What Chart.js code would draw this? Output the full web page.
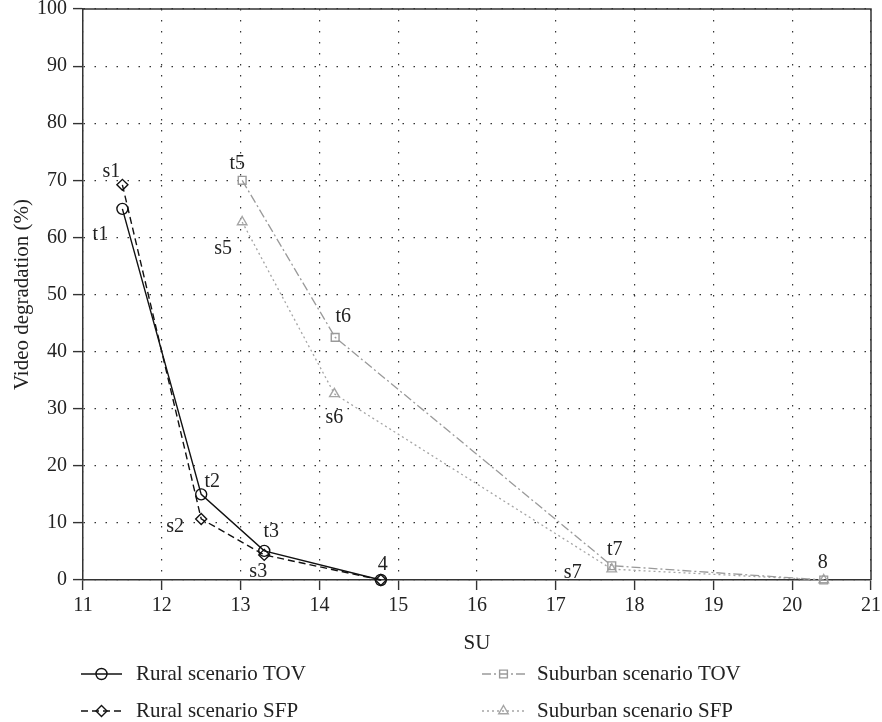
<!DOCTYPE html>
<html>
<head>
<meta charset="utf-8">
<script src="https://cdn.jsdelivr.net/npm/chart.js@4"></script>
<style>
html,body{margin:0;padding:0;background:#fff;}
#wrap{width:882px;height:722px;position:relative;}
</style>
</head>
<body>
<div id="wrap"><canvas id="c"></canvas></div>
<script>
// ---- data ----
const seriesNames = ["Rural scenario TOV", "Rural scenario SFP", "Suburban scenario TOV", "Suburban scenario SFP"];
const ruralTovX = [11.5, 12.5, 13.3, 14.78];
const ruralTovY = [65, 15, 5.1, 0];
const ruralSfpX = [11.5, 12.5, 13.3, 14.78];
const ruralSfpY = [69.2, 10.7, 4.4, 0];
const subTovX = [13.02, 14.2, 17.71, 20.4];
const subTovY = [70, 42.5, 2.5, 0];
const subSfpX = [13.02, 14.19, 17.71, 20.4];
const subSfpY = [62.7, 32.6, 1.9, 0];
const ruralTovLabels = ["t1", "t2", "t3", "4"];
const ruralSfpLabels = ["s1", "s2", "s3", ""];
const subTovLabels = ["t5", "t6", "t7", "8"];
const subSfpLabels = ["s5", "s6", "s7", ""];
const xTitle = "SU";
const yTitle = "Video degradation (%)";

// ---- styles ----
const FONT = "'Liberation Serif', 'Times New Roman', serif";
const TXT = "#222";
const labelOffsets = [
  [[-22, 26], [11, -13], [7, -19], [2, -15]],
  [[-11, -13], [-26, 8], [-6, 17], [0, 0]],
  [[-5, -17], [8, -21], [3, -16], [-1, -17]],
  [[-19, 27], [0, 24], [-39, 4], [0, 0]]
];
const legendPos = [
  {x1: 81, x2: 122, tx: 136, y: 674},
  {x1: 81, x2: 122, tx: 136, y: 711},
  {x1: 482, x2: 525, tx: 537, y: 674},
  {x1: 482, x2: 525, tx: 537, y: 711}
];

function pts(xs, ys) { return xs.map((x, i) => ({x: x, y: ys[i]})); }
const pointLabels = [ruralTovLabels, ruralSfpLabels, subTovLabels, subSfpLabels];

const datasets = [
  {label: seriesNames[0], data: pts(ruralTovX, ruralTovY), borderColor: "#111", borderWidth: 1.4,
   borderDash: [], pointStyle: "circle", pointRadius: 5.5},
  {label: seriesNames[1], data: pts(ruralSfpX, ruralSfpY), borderColor: "#111", borderWidth: 1.4,
   borderDash: [7, 4], pointStyle: "rectRot", pointRadius: 5.5},
  {label: seriesNames[2], data: pts(subTovX, subTovY), borderColor: "#9a9a9a", borderWidth: 1.3,
   borderDash: [9, 3, 2, 3], pointStyle: "rect", pointRadius: 5.5},
  {label: seriesNames[3], data: pts(subSfpX, subSfpY), borderColor: "#a5a5a5", borderWidth: 1.3,
   borderDash: [2, 3], pointStyle: "triangle", pointRadius: 5.5}
].map(d => Object.assign(d, {
  showLine: true, fill: false, tension: 0, clip: false,
  pointBorderColor: d.borderColor, pointBackgroundColor: "rgba(255,255,255,0)",
  pointBorderWidth: 1.4, pointHoverRadius: d.pointRadius
}));

const framePlugin = {
  id: "frame",
  afterDatasetsDraw(chart) {
    const ctx = chart.ctx, a = chart.chartArea;
    ctx.save();
    ctx.strokeStyle = "#333";
    ctx.lineWidth = 1.5;
    ctx.setLineDash([]);
    ctx.beginPath();
    ctx.moveTo(a.left, a.top);
    ctx.lineTo(a.right, a.top);
    ctx.lineTo(a.right, a.bottom);
    ctx.stroke();
    ctx.restore();
  }
};

const labelPlugin = {
  id: "ptlabels",
  afterDatasetsDraw(chart) {
    const ctx = chart.ctx;
    const xs = chart.scales.x, ys = chart.scales.y;
    ctx.save();
    ctx.font = "20px " + FONT;
    ctx.fillStyle = TXT;
    ctx.textAlign = "center";
    ctx.textBaseline = "middle";
    chart.data.datasets.forEach((ds, di) => {
      ds.data.forEach((p, i) => {
        const t = pointLabels[di][i];
        if (!t) return;
        const o = labelOffsets[di][i];
        ctx.fillText(t, xs.getPixelForValue(p.x) + o[0], ys.getPixelForValue(p.y) + o[1]);
      });
    });
    ctx.restore();
  }
};

const legendPlugin = {
  id: "customLegend",
  afterDraw(chart) {
    const ctx = chart.ctx;
    ctx.save();
    chart.data.datasets.forEach((ds, i) => {
      const L = legendPos[i];
      ctx.strokeStyle = ds.borderColor;
      ctx.lineWidth = ds.borderWidth;
      ctx.setLineDash(ds.borderDash);
      ctx.beginPath();
      ctx.moveTo(L.x1, L.y);
      ctx.lineTo(L.x2, L.y);
      ctx.stroke();
      ctx.setLineDash([]);
      const cx = (L.x1 + L.x2) / 2;
      ctx.lineWidth = ds.pointBorderWidth;
      ctx.strokeStyle = ds.pointBorderColor;
      ctx.fillStyle = "rgba(255,255,255,0)";
      Chart.helpers.drawPoint(ctx, {pointStyle: ds.pointStyle, radius: ds.pointRadius, borderWidth: ds.pointBorderWidth, rotation: 0}, cx, L.y);
      ctx.fillStyle = TXT;
      ctx.font = "21px " + FONT;
      ctx.textAlign = "left";
      ctx.textBaseline = "middle";
      ctx.fillText(ds.label, L.tx, L.y);
    });
    ctx.restore();
  }
};

new Chart(document.getElementById("c"), {
  type: "scatter",
  data: {datasets: datasets},
  plugins: [framePlugin, labelPlugin, legendPlugin],
  options: {
    responsive: true,
    maintainAspectRatio: false,
    animation: false,
    events: [],
    layout: {padding: {top: 9, right: 11, left: 0, bottom: 62}},
    plugins: {legend: {display: false}, tooltip: {enabled: false}},
    scales: {
      x: {
        type: "linear", min: 11, max: 21,
        ticks: {stepSize: 1, color: TXT, font: {family: FONT, size: 20}, padding: 4, maxRotation: 0},
        grid: {color: "#333", lineWidth: 1.2, tickLength: 10, tickColor: "#333", tickWidth: 1.4, tickBorderDash: []},
        border: {color: "#333", width: 1.5, dash: [1.5, 9.5]},
        title: {display: true, text: xTitle, color: TXT, font: {family: FONT, size: 21}, padding: {top: 0, bottom: 4.4}},
        afterFit(s) { s.height = 80; s.paddingLeft = 0; s.paddingRight = 0; }
      },
      y: {
        type: "linear", min: 0, max: 100,
        ticks: {stepSize: 10, color: TXT, font: {family: FONT, size: 20}, padding: 6},
        grid: {color: "#333", lineWidth: 1.2, tickLength: 10, tickColor: "#333", tickWidth: 1.4, tickBorderDash: []},
        border: {color: "#333", width: 1.5, dash: [1.5, 9.5]},
        title: {display: true, text: yTitle, color: TXT, font: {family: FONT, size: 21}, padding: {top: 9.4, bottom: 0}},
        afterFit(s) { s.width = 83; s.paddingTop = 0; s.paddingBottom = 0; }
      }
    }
  }
});
</script>
</body>
</html>
